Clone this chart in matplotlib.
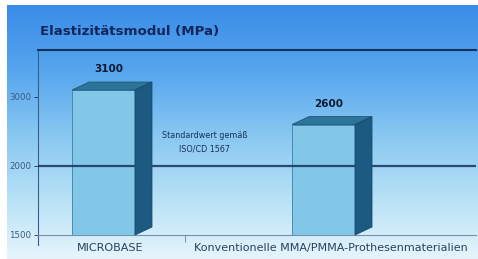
import numpy as np
import matplotlib
matplotlib.use("Agg")
import matplotlib.pyplot as plt
from matplotlib.colors import LinearSegmentedColormap
from matplotlib.patches import Polygon
from matplotlib.transforms import ScaledTranslation

categories = ["MICROBASE", "Konventionelle MMA/PMMA-Prothesenmaterialien"]
values = [3100, 2600]
value_labels = ["3100", "2600"]
yticks = [1500, 2000, 3000]
ytick_labels = ["1500", "2000", "3000"]
standard_value = 2000
title = "Elastizitätsmodul (MPa)"
note = "Standardwert gemäß\nISO/CD 1567"

W, H = 478, 259
fig = plt.figure(figsize=(W / 100, H / 100), dpi=100)
fig.patch.set_facecolor("white")

# background gradient
bg = fig.add_axes([7 / W, 0, (W - 7) / W, (H - 5) / H], zorder=-10)
cmap = LinearSegmentedColormap.from_list(
    "bg", ["#3a8de8", "#55a4ee", "#86c6f1", "#b5e0f6", "#e6f5fc"])
grad = np.linspace(0, 1, 256).reshape(-1, 1)
bg.imshow(grad, aspect="auto", cmap=cmap, extent=[0, 1, 0, 1], origin="upper")
bg.set_axis_off()

def fwd(v):
    v = np.asarray(v, dtype=float)
    return np.where(v <= 2000, (v - 1500) / 500.0, 1 + (v - 2000) / 1000.0)

def inv(u):
    u = np.asarray(u, dtype=float)
    return np.where(u <= 1, 1500 + u * 500.0, 2000 + (u - 1) * 1000.0)

ax = fig.add_axes([38 / W, (H - 235) / H, 438 / W, 185 / H])
ax.set_facecolor("none")
ax.set_yscale("function", functions=(fwd, inv))
ax.set_ylim(1500, 3680)
ax.set_xlim(-0.2977, 1.693)

navy = "#17325a"
x = np.arange(len(categories))
width = 0.286
bars = ax.bar(x, [v - 1500 for v in values], bottom=1500, width=width,
              color="#82c7e8", edgecolor="#3d7fa8", linewidth=0.6, zorder=3)

fig.canvas.draw()
dx, dy = 17, 8
for rect in bars:
    x0, y0 = ax.transData.transform((rect.get_x(), rect.get_y()))
    x1, y1 = ax.transData.transform((rect.get_x() + rect.get_width(),
                                     rect.get_y() + rect.get_height()))
    top = Polygon([(x0, y1), (x0 + dx, y1 + dy), (x1 + dx, y1 + dy), (x1, y1)],
                  closed=True, transform=None, facecolor="#2c7499",
                  edgecolor="#1d5878", linewidth=0.6, zorder=4)
    side = Polygon([(x1, y0), (x1, y1), (x1 + dx, y1 + dy), (x1 + dx, y0 + dy)],
                   closed=True, transform=None, facecolor="#1d5a82",
                   edgecolor="#174a6c", linewidth=0.6, zorder=4)
    fig.add_artist(top)
    fig.add_artist(side)

for xi, v, lab in zip(x, values, value_labels):
    ax.annotate(lab, (xi, v), xytext=(5, 21), textcoords="offset pixels",
                ha="center", va="center", fontsize=7.5, fontweight="bold",
                color="#101a30", zorder=6)

ax.axhline(standard_value, color=navy, linewidth=1.6, alpha=0.85, zorder=5)

ax.text(0.46, 2340, note, ha="center", va="center", fontsize=5.8,
        color=navy, linespacing=1.6, zorder=6)

ax.set_yticks(yticks)
ax.set_yticklabels(ytick_labels)
ax.yaxis.set_minor_locator(matplotlib.ticker.NullLocator())
ax.tick_params(axis="y", length=3, width=0.6, color=navy, labelsize=6.2,
               labelcolor="#3a5a80", pad=2)

ax.set_xticks(x)
ax.set_xticklabels(categories)
ax.set_xticks([0.37], minor=True)
ax.tick_params(axis="x", which="major", length=0, labelsize=8,
               labelcolor="#2c4060", pad=6)
ax.tick_params(axis="x", which="minor", length=5, width=0.6, color="#6a8098")
off = ScaledTranslation(7 / 100, 0, fig.dpi_scale_trans)
for lab in ax.get_xticklabels():
    lab.set_transform(lab.get_transform() + off)

for s in ["right"]:
    ax.spines[s].set_visible(False)
ax.spines["top"].set_color(navy)
ax.spines["top"].set_linewidth(1.5)
ax.spines["left"].set_color("#3a5e86")
ax.spines["left"].set_linewidth(0.8)
ax.spines["bottom"].set_color("#7890a8")
ax.spines["bottom"].set_linewidth(0.8)
ax.plot([0, 0], [0, -0.055], transform=ax.transAxes, color="#3a5e86",
        linewidth=0.8, clip_on=False)

fig.text(40 / W, 1 - 32 / H, title, ha="left", va="center", fontsize=9.6,
         fontweight="bold", color="#13255a")

fig.savefig("out.png", dpi=100)
